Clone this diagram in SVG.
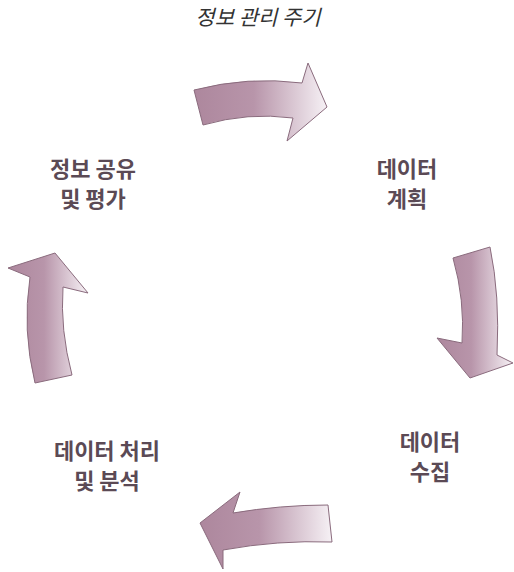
<svg xmlns="http://www.w3.org/2000/svg" width="514" height="572" viewBox="0 0 514 572">
<defs>
<linearGradient id="gTop" gradientUnits="userSpaceOnUse" x1="194" y1="0" x2="327" y2="0">
<stop offset="0" stop-color="#ad879d"/><stop offset="0.45" stop-color="#b895aa"/><stop offset="1" stop-color="#f6f1f5"/>
</linearGradient>
<linearGradient id="gRight" gradientUnits="userSpaceOnUse" x1="437" y1="0" x2="513" y2="0">
<stop offset="0" stop-color="#ad879d"/><stop offset="0.45" stop-color="#b895aa"/><stop offset="1" stop-color="#f6f1f5"/>
</linearGradient>
<linearGradient id="gBottom" gradientUnits="userSpaceOnUse" x1="200" y1="0" x2="332" y2="0">
<stop offset="0" stop-color="#ad879d"/><stop offset="0.45" stop-color="#b895aa"/><stop offset="1" stop-color="#f6f1f5"/>
</linearGradient>
<linearGradient id="gLeft" gradientUnits="userSpaceOnUse" x1="8" y1="0" x2="88" y2="0">
<stop offset="0" stop-color="#ad879d"/><stop offset="0.45" stop-color="#b895aa"/><stop offset="1" stop-color="#f6f1f5"/>
</linearGradient>
</defs>
<style>
.arrow{stroke:#8a6b7d;stroke-width:1;stroke-linejoin:miter}
.lbl{font-family:"Noto Sans CJK KR","Noto Sans",sans-serif;font-weight:bold;font-size:22px;fill:#5b4a55;text-anchor:middle}
.title{font-family:"Noto Sans CJK KR","Noto Sans",sans-serif;font-style:italic;font-size:21px;fill:#333;text-anchor:middle}
</style>
<rect width="514" height="572" fill="#fff"/>
<text class="title" x="258" y="25">정보 관리 주기</text>
<g id="connectors">
<path class="arrow" fill="url(#gTop)" d="M194,90 Q248,76 302,83 L308,63 L327,107 L287,141 L293,118 Q248,112 203,125 Z"/>
<path class="arrow" fill="url(#gRight)" d="M453,258 Q465,300 462,343 L437,338 L470,378 L513,363 L497,355 Q500,295 490,247 Z"/>
<path class="arrow" fill="url(#gBottom)" d="M328,505 Q280,505 233,513 L240,492 L200,523 L223,569 L223,550 Q278,540 332,542 Z"/>
<path class="arrow" fill="url(#gLeft)" d="M35,383 Q22,330 30,277 L8,268 L55,253 L88,293 L63,287 Q60,330 72,375 Z"/>
</g>
<g id="node-plan"><text class="lbl"><tspan x="407" y="177">데이터</tspan><tspan x="407" y="207">계획</tspan></text></g>
<g id="node-collect"><text class="lbl"><tspan x="430" y="450">데이터</tspan><tspan x="430" y="480">수집</tspan></text></g>
<g id="node-process"><text class="lbl"><tspan x="107" y="459">데이터 처리</tspan><tspan x="107" y="489">및 분석</tspan></text></g>
<g id="node-share"><text class="lbl"><tspan x="93" y="177">정보 공유</tspan><tspan x="93" y="207">및 평가</tspan></text></g>
</svg>
